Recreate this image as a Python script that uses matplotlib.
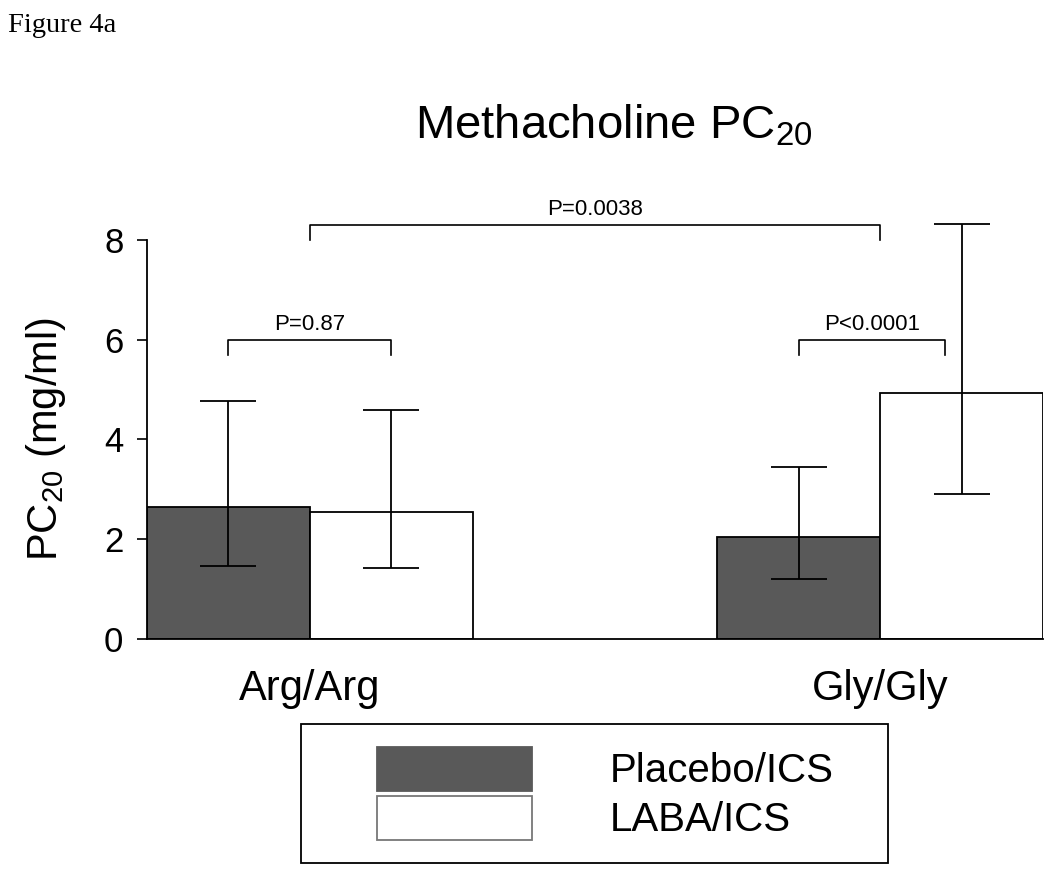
import matplotlib
matplotlib.use('Agg')
import matplotlib.pyplot as plt
from matplotlib.patches import Rectangle
from matplotlib.container import BarContainer
from matplotlib.legend_handler import HandlerPatch, update_from_first_child

plt.rcParams['font.family'] = ['Liberation Sans', 'DejaVu Sans']

# data
groups = ['Arg/Arg', 'Gly/Gly']
group_pos = [0.0, 3.5]
placebo_mean = [2.65, 2.04]
placebo_low = [1.46, 1.20]
placebo_high = [4.76, 3.45]
laba_mean = [2.54, 4.93]
laba_low = [1.42, 2.90]
laba_high = [4.59, 8.33]

# significance brackets: (x1, x2, y, label)
brackets = [(-0.5, 0.5, 6.0, 'P=0.87'),
            (0.0, 3.5, 8.3, 'P=0.0038'),
            (3.0, 3.9, 6.0, 'P<0.0001')]

fig = plt.figure(figsize=(10.5, 8.77), dpi=100)
ax = fig.add_axes([147 / 1050, 1 - 638.7 / 877, 896 / 1050, 398.7 / 877])

xp = [g - 0.5 for g in group_pos]
xl = [g + 0.5 for g in group_pos]
err_p = [[m - lo for m, lo in zip(placebo_mean, placebo_low)],
         [hi - m for m, hi in zip(placebo_mean, placebo_high)]]
err_l = [[m - lo for m, lo in zip(laba_mean, laba_low)],
         [hi - m for m, hi in zip(laba_mean, laba_high)]]

b1 = ax.bar(xp, placebo_mean, width=1.0, color='#595959', edgecolor='black',
            linewidth=1.3, label='Placebo/ICS')
b2 = ax.bar(xl, laba_mean, width=1.0, color='white', edgecolor='black',
            linewidth=1.3, label='LABA/ICS')
ax.errorbar(xp, placebo_mean, yerr=err_p, fmt='none', ecolor='black',
            elinewidth=1.3, capsize=20, capthick=1.3, clip_on=False)
ax.errorbar(xl, laba_mean, yerr=err_l, fmt='none', ecolor='black',
            elinewidth=1.3, capsize=20, capthick=1.3, clip_on=False)

for x1, x2, y, txt in brackets:
    ax.plot([x1, x1, x2, x2], [y - 0.3, y, y, y - 0.3], color='black',
            lw=1.2, clip_on=False)
    ax.text((x1 + x2) / 2, y + 0.2, txt, ha='center', va='baseline',
            fontsize=16)

ax.set_xlim(-1, 4.5)
ax.set_ylim(0, 8)
ax.set_yticks([0, 2, 4, 6, 8])
ax.set_xticks(group_pos)
ax.set_xticklabels(groups)
ax.tick_params(axis='y', labelsize=25, length=7, width=1.2, pad=10)
ax.tick_params(axis='x', labelsize=30, length=0, pad=22)
for s in ['top', 'right']:
    ax.spines[s].set_visible(False)
for s in ['left', 'bottom']:
    ax.spines[s].set_linewidth(1.3)

ax.set_ylabel('PC$_\\mathregular{20}$ (mg/ml)', fontsize=30)
ax.yaxis.set_label_coords(-0.088, 0.5)

fig.text(614 / 1050, 1 - 139 / 877, 'Methacholine PC$_\\mathregular{20}$',
         ha='center', va='baseline', fontsize=34)
fig.text(8 / 1050, 1 - 32 / 877, 'Figure 4a', family='Liberation Serif',
         fontsize=20.5, va='baseline')


# legend swatch sits on the right part of a wider handle box
def swatch(legend, orig_handle, xdescent, ydescent, width, height, fontsize):
    w = 155 / 208 * width
    return Rectangle((width - w - xdescent, -ydescent), w, height)


fs_px = 29 * 100 / 72
leg = ax.legend(handles=[b1, b2], fontsize=29, loc='upper left',
                bbox_to_anchor=(301 / 1050, 1 - 724 / 877 - 0.01, 587 / 1050, 0.01),
                bbox_transform=fig.transFigure, mode='expand',
                borderpad=0.57, borderaxespad=0, handlelength=208 / fs_px,
                handleheight=1.3, labelspacing=0.12, handletextpad=78 / fs_px,
                fancybox=False, edgecolor='black', framealpha=1,
                handler_map={BarContainer: HandlerPatch(
                    patch_func=swatch, update_func=update_from_first_child)})
leg.get_frame().set_linewidth(1.3)
hs = leg.legend_handles
hs[0].set_edgecolor('#595959')
hs[1].set_edgecolor('#777777')

fig.savefig('out.png', dpi=100)
